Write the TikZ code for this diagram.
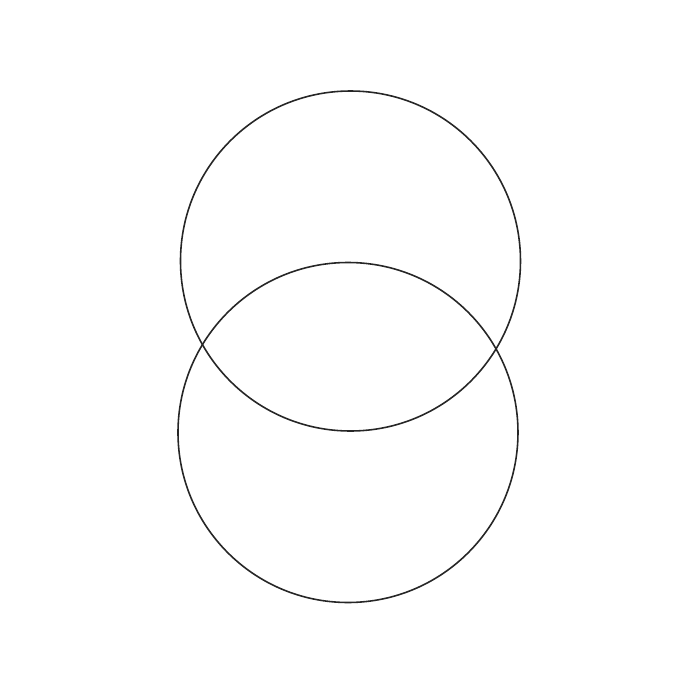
\documentclass[tikz,border=0pt]{standalone}
\begin{document}
\begin{tikzpicture}[ring/.style={draw=black!85,line width=0.45pt}]
\useasboundingbox[fill=white] (0,0) rectangle (7,7);
\node[ring,circle,minimum size=3.40cm,inner sep=0pt] (top) at (3.505,4.39) {};
\node[ring,circle,minimum size=3.40cm,inner sep=0pt] (bottom) at (3.48,2.675) {};
\end{tikzpicture}
\end{document}
